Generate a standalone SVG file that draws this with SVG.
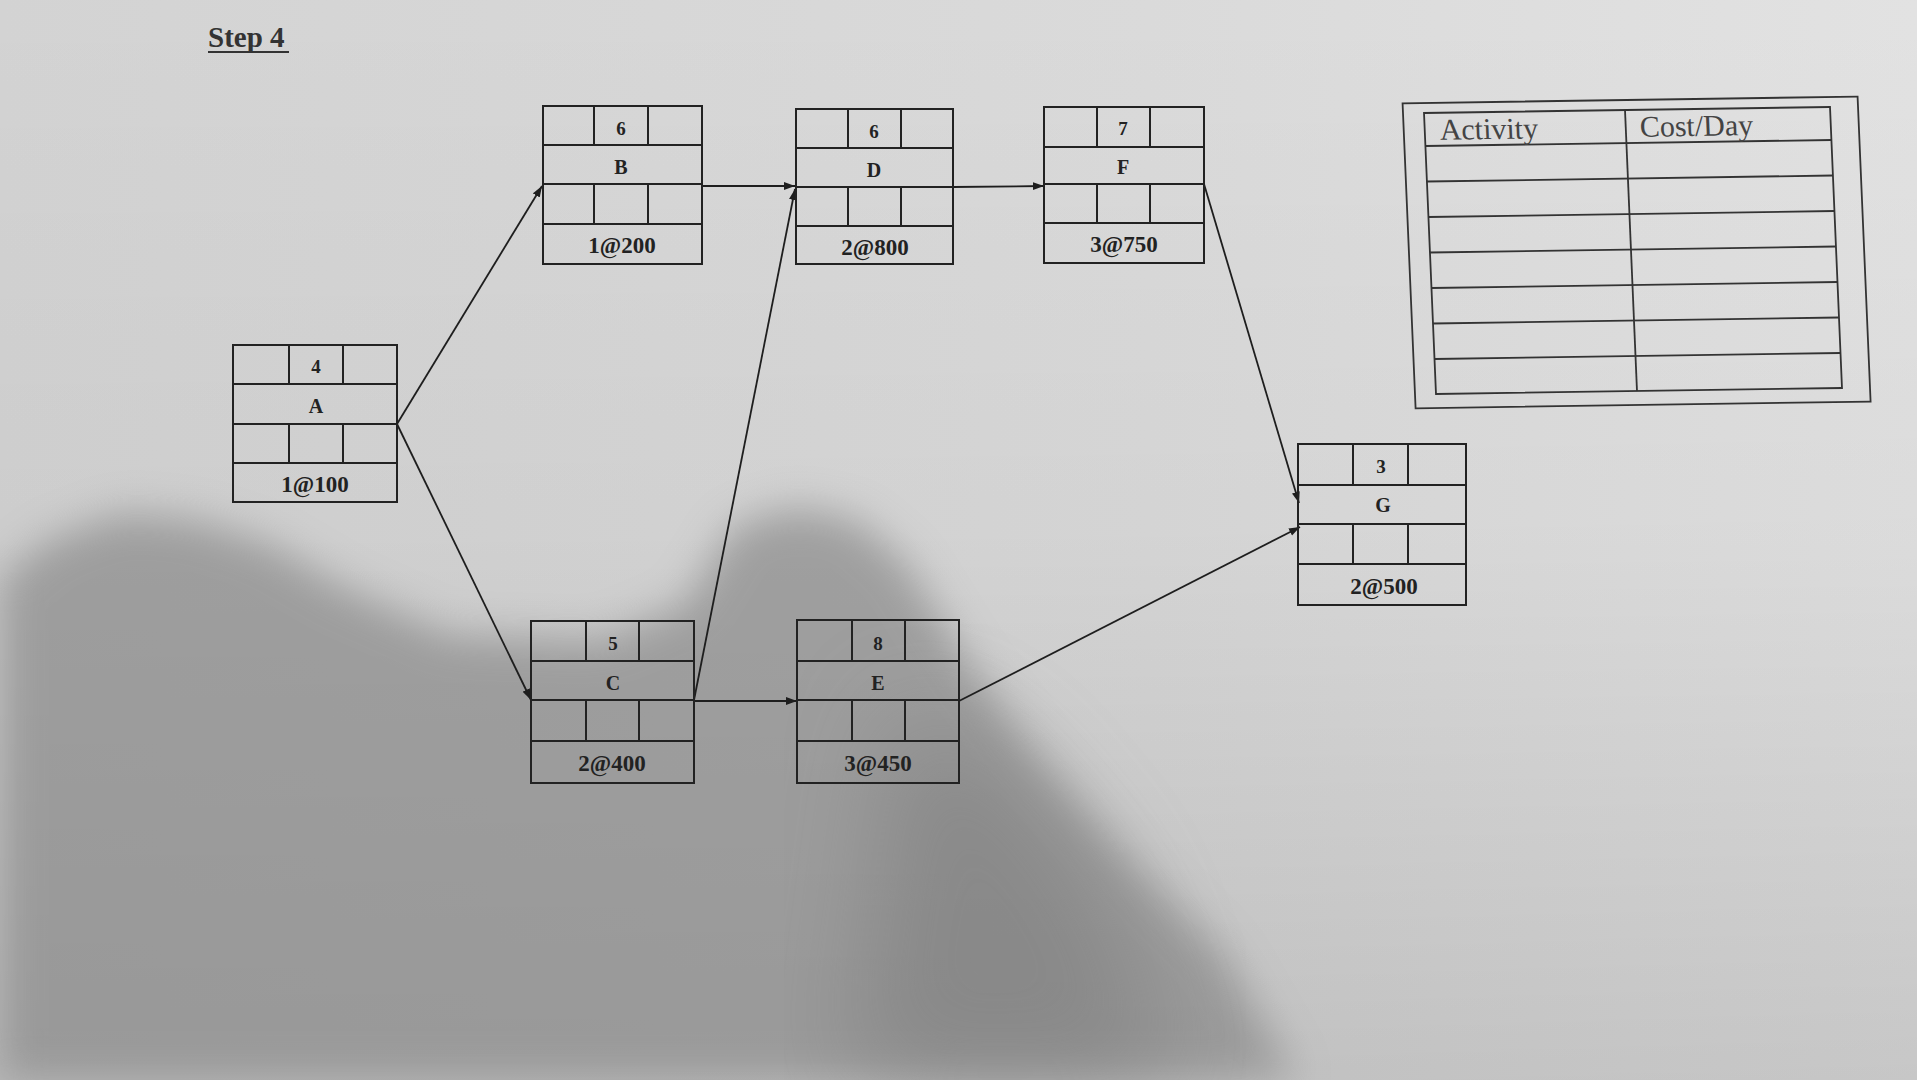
<svg xmlns="http://www.w3.org/2000/svg" width="1917" height="1080" viewBox="0 0 1917 1080">
<style>
.box{fill:none;stroke:#222;stroke-width:2}
.ln{stroke:#222;stroke-width:2}
.num{font-family:"Liberation Serif",serif;font-weight:bold;font-size:19px;fill:#222;text-anchor:middle}
.let{font-family:"Liberation Serif",serif;font-weight:bold;font-size:20px;fill:#222;text-anchor:middle}
.cost{font-family:"Liberation Serif",serif;font-weight:bold;font-size:23px;fill:#222;text-anchor:middle}
.con{stroke:#1e1e1e;stroke-width:1.8;fill:none;marker-end:url(#ah)}
.tb{fill:none;stroke:#333;stroke-width:1.8}
.th{font-family:"Liberation Serif",serif;font-size:30px;fill:#444}
</style>
<defs>
<linearGradient id="bgH" x1="0" y1="0" x2="1" y2="0">
<stop offset="0" stop-color="#d3d3d3"/>
<stop offset="0.6" stop-color="#dadada"/>
<stop offset="1" stop-color="#e2e2e2"/>
</linearGradient>
<linearGradient id="bgV" x1="0" y1="0" x2="0" y2="1">
<stop offset="0" stop-color="#000" stop-opacity="0"/>
<stop offset="0.5" stop-color="#000" stop-opacity="0.03"/>
<stop offset="1" stop-color="#000" stop-opacity="0.12"/>
</linearGradient>
<filter id="blur" x="-20%" y="-20%" width="140%" height="140%"><feGaussianBlur stdDeviation="20"/></filter>
<filter id="blur2" x="-20%" y="-20%" width="140%" height="140%"><feGaussianBlur stdDeviation="50"/></filter>
<marker id="ah" markerUnits="userSpaceOnUse" markerWidth="12" markerHeight="10" refX="11" refY="4" orient="auto">
<path d="M0,0 L11,4 L0,8 z" fill="#1e1e1e"/>
</marker>
</defs>
<rect x="0" y="0" width="1917" height="1080" fill="url(#bgH)"/>
<rect x="0" y="0" width="1917" height="1080" fill="url(#bgV)"/>
<path d="M0,580 L49,540 L122,513 L196,520 L269,544 L342,587 L450,635 L600,640 L685,605 L734,526 L795,507 L856,520 L905,562 L966,660 L1039,758 L1125,856 L1223,954 L1296,1080 L0,1080 Z" fill="#8c8c8c" opacity="0.72" filter="url(#blur)"/>
<path d="M900,700 L1000,760 L1100,880 L1180,1080 L850,1080 Z" fill="#777" opacity="0.5" filter="url(#blur2)"/>

<g id="title">
<text x="208" y="47" font-family="Liberation Serif, serif" font-weight="bold" font-size="29" fill="#333">Step 4</text>
<line x1="208" y1="52" x2="289" y2="52" stroke="#333" stroke-width="2"/>
</g>

<g id="connectors">
<line class="con" x1="397" y1="424" x2="542" y2="186"/>
<line class="con" x1="397" y1="424" x2="531" y2="700"/>
<line class="con" x1="702" y1="186" x2="795" y2="186"/>
<line class="con" x1="694" y1="700" x2="795" y2="189"/>
<line class="con" x1="694" y1="701" x2="797" y2="701"/>
<line class="con" x1="953" y1="187" x2="1044" y2="186"/>
<line class="con" x1="1204" y1="184" x2="1299" y2="503"/>
<line class="con" x1="959" y1="701" x2="1300" y2="527"/>
</g>

<g id="node-A">
<rect class="box" x="233" y="345" width="164" height="157"/>
<line class="ln" x1="233" y1="384" x2="397" y2="384"/>
<line class="ln" x1="233" y1="424" x2="397" y2="424"/>
<line class="ln" x1="233" y1="463" x2="397" y2="463"/>
<line class="ln" x1="289" y1="345" x2="289" y2="384"/>
<line class="ln" x1="343" y1="345" x2="343" y2="384"/>
<line class="ln" x1="289" y1="424" x2="289" y2="463"/>
<line class="ln" x1="343" y1="424" x2="343" y2="463"/>
<text class="num" x="316" y="373">4</text>
<text class="let" x="316" y="413">A</text>
<text class="cost" x="315" y="492">1@100</text>
</g>

<g id="node-B">
<rect class="box" x="543" y="106" width="159" height="158"/>
<line class="ln" x1="543" y1="145" x2="702" y2="145"/>
<line class="ln" x1="543" y1="184" x2="702" y2="184"/>
<line class="ln" x1="543" y1="224" x2="702" y2="224"/>
<line class="ln" x1="594" y1="106" x2="594" y2="145"/>
<line class="ln" x1="648" y1="106" x2="648" y2="145"/>
<line class="ln" x1="594" y1="184" x2="594" y2="224"/>
<line class="ln" x1="648" y1="184" x2="648" y2="224"/>
<text class="num" x="621" y="135">6</text>
<text class="let" x="621" y="174">B</text>
<text class="cost" x="622" y="253">1@200</text>
</g>

<g id="node-D">
<rect class="box" x="796" y="109" width="157" height="155"/>
<line class="ln" x1="796" y1="148" x2="953" y2="148"/>
<line class="ln" x1="796" y1="187" x2="953" y2="187"/>
<line class="ln" x1="796" y1="226" x2="953" y2="226"/>
<line class="ln" x1="848" y1="109" x2="848" y2="148"/>
<line class="ln" x1="901" y1="109" x2="901" y2="148"/>
<line class="ln" x1="848" y1="187" x2="848" y2="226"/>
<line class="ln" x1="901" y1="187" x2="901" y2="226"/>
<text class="num" x="874" y="138">6</text>
<text class="let" x="874" y="177">D</text>
<text class="cost" x="875" y="255">2@800</text>
</g>

<g id="node-F">
<rect class="box" x="1044" y="107" width="160" height="156"/>
<line class="ln" x1="1044" y1="147" x2="1204" y2="147"/>
<line class="ln" x1="1044" y1="184" x2="1204" y2="184"/>
<line class="ln" x1="1044" y1="223" x2="1204" y2="223"/>
<line class="ln" x1="1097" y1="107" x2="1097" y2="147"/>
<line class="ln" x1="1150" y1="107" x2="1150" y2="147"/>
<line class="ln" x1="1097" y1="184" x2="1097" y2="223"/>
<line class="ln" x1="1150" y1="184" x2="1150" y2="223"/>
<text class="num" x="1123" y="135">7</text>
<text class="let" x="1123" y="174">F</text>
<text class="cost" x="1124" y="252">3@750</text>
</g>

<g id="node-G">
<rect class="box" x="1298" y="444" width="168" height="161"/>
<line class="ln" x1="1298" y1="485" x2="1466" y2="485"/>
<line class="ln" x1="1298" y1="524" x2="1466" y2="524"/>
<line class="ln" x1="1298" y1="564" x2="1466" y2="564"/>
<line class="ln" x1="1353" y1="444" x2="1353" y2="485"/>
<line class="ln" x1="1408" y1="444" x2="1408" y2="485"/>
<line class="ln" x1="1353" y1="524" x2="1353" y2="564"/>
<line class="ln" x1="1408" y1="524" x2="1408" y2="564"/>
<text class="num" x="1381" y="473" font-weight="normal">3</text>
<text class="let" x="1383" y="512" font-weight="normal">G</text>
<text class="cost" x="1384" y="594">2@500</text>
</g>

<g id="node-C">
<rect class="box" x="531" y="621" width="163" height="162"/>
<line class="ln" x1="531" y1="661" x2="694" y2="661"/>
<line class="ln" x1="531" y1="700" x2="694" y2="700"/>
<line class="ln" x1="531" y1="741" x2="694" y2="741"/>
<line class="ln" x1="586" y1="621" x2="586" y2="661"/>
<line class="ln" x1="639" y1="621" x2="639" y2="661"/>
<line class="ln" x1="586" y1="700" x2="586" y2="741"/>
<line class="ln" x1="639" y1="700" x2="639" y2="741"/>
<text class="num" x="613" y="650">5</text>
<text class="let" x="613" y="690">C</text>
<text class="cost" x="612" y="771">2@400</text>
</g>

<g id="node-E">
<rect class="box" x="797" y="620" width="162" height="163"/>
<line class="ln" x1="797" y1="661" x2="959" y2="661"/>
<line class="ln" x1="797" y1="700" x2="959" y2="700"/>
<line class="ln" x1="797" y1="741" x2="959" y2="741"/>
<line class="ln" x1="852" y1="620" x2="852" y2="661"/>
<line class="ln" x1="905" y1="620" x2="905" y2="661"/>
<line class="ln" x1="852" y1="700" x2="852" y2="741"/>
<line class="ln" x1="905" y1="700" x2="905" y2="741"/>
<text class="num" x="878" y="650">8</text>
<text class="let" x="878" y="690">E</text>
<text class="cost" x="878" y="771">3@450</text>
</g>

<g id="table" transform="matrix(1,-0.0148,0.0427,1,1424,113)">
<rect class="tb" x="-21" y="-10" width="455" height="305"/>
<rect class="tb" x="0" y="0" width="406" height="281"/>
<line class="tb" x1="0" y1="33" x2="406" y2="33"/>
<line class="tb" x1="0" y1="68.5" x2="406" y2="68.5"/>
<line class="tb" x1="0" y1="104" x2="406" y2="104"/>
<line class="tb" x1="0" y1="139.5" x2="406" y2="139.5"/>
<line class="tb" x1="0" y1="175" x2="406" y2="175"/>
<line class="tb" x1="0" y1="210.5" x2="406" y2="210.5"/>
<line class="tb" x1="0" y1="246" x2="406" y2="246"/>
<line class="tb" x1="201" y1="0" x2="201" y2="281"/>
<text class="th" x="15" y="27">Activity</text>
<text class="th" x="215" y="27">Cost/Day</text>
</g>
</svg>
